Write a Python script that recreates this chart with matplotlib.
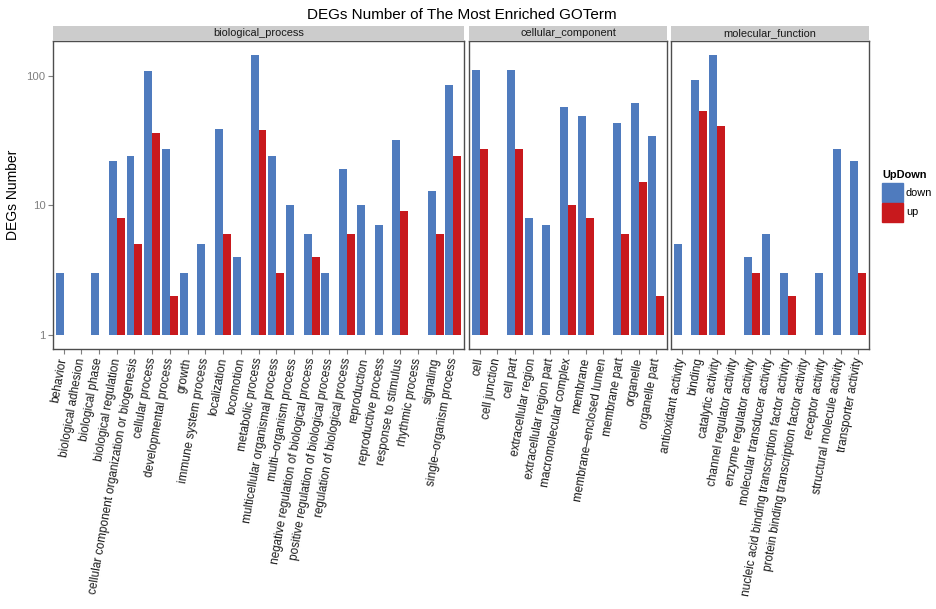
import matplotlib.pyplot as plt
import numpy as np

plt.rcParams['font.family'] = ['Liberation Sans', 'DejaVu Sans']

# GO terms and DEG counts per ontology (value 1 -> no visible bar on log axis)
bp_terms = ["behavior", "biological adhesion", "biological phase", "biological regulation",
            "cellular component organization or biogenesis", "cellular process",
            "developmental process", "growth", "immune system process", "localization",
            "locomotion", "metabolic process", "multicellular organismal process",
            "multi\u2013organism process", "negative regulation of biological process",
            "positive regulation of biological process", "regulation of biological process",
            "reproduction", "reproductive process", "response to stimulus",
            "rhythmic process", "signaling", "single\u2013organism process"]
bp_down = [3, 1, 3, 22, 24, 109, 27, 3, 5, 39, 4, 143, 24, 10, 6, 3, 19, 10, 7, 32, 1, 13, 84]
bp_up = [1, 1, 1, 8, 5, 36, 2, 1, 1, 6, 1, 38, 3, 1, 4, 1, 6, 1, 1, 9, 1, 6, 24]

cc_terms = ["cell", "cell junction", "cell part", "extracellular region",
            "extracellular region part", "macromolecular complex", "membrane",
            "membrane\u2013enclosed lumen", "membrane part", "organelle", "organelle part"]
cc_down = [110, 1, 110, 8, 7, 57, 49, 1, 43, 62, 34]
cc_up = [27, 1, 27, 1, 1, 10, 8, 1, 6, 15, 2]

mf_terms = ["antioxidant activity", "binding", "catalytic activity",
            "channel regulator activity", "enzyme regulator activity",
            "molecular transducer activity",
            "nucleic acid binding transcription factor activity",
            "protein binding transcription factor activity", "receptor activity",
            "structural molecule activity", "transporter activity"]
mf_down = [5, 92, 143, 1, 4, 6, 3, 1, 3, 27, 22]
mf_up = [1, 53, 41, 1, 3, 1, 2, 1, 1, 1, 3]

facets = [
    ("biological_process", bp_terms, bp_down, bp_up),
    ("cellular_component", cc_terms, cc_down, cc_up),
    ("molecular_function", mf_terms, mf_down, mf_up),
]

blue = "#4F7BBE"
red = "#C8191D"
W, H = 936, 609

fig = plt.figure(figsize=(W / 100, H / 100), dpi=100)

# panel extents in pixels (left, right)
panel_x = [(53, 464), (469, 667), (671, 869)]
top, bottom, strip_top = 41, 349, 26

ymin, ymax = 10 ** -0.108, 10 ** 2.267
bw = 0.45

for i, ((name, terms, down, up), (x0, x1)) in enumerate(zip(facets, panel_x)):
    ax = fig.add_axes([x0 / W, 1 - bottom / H, (x1 - x0) / W, (bottom - top) / H])
    x = np.arange(len(terms))
    ax.bar(x - bw / 2, np.array(down) - 1, bottom=1, width=bw, color=blue, label="down")
    ax.bar(x + bw / 2, np.array(up) - 1, bottom=1, width=bw, color=red, label="up")
    ax.set_yscale("log")
    ax.set_ylim(ymin, ymax)
    ax.set_xlim(-0.6, len(terms) - 0.4)
    ax.set_xticks(x)
    ax.set_xticklabels(terms, rotation=80, ha="right", va="center",
                       rotation_mode="anchor", fontsize=8.5, color="#1a1a1a")
    ax.tick_params(axis="x", length=3.5, color="#7f7f7f", pad=3)
    ax.minorticks_off()
    for s in ax.spines.values():
        s.set_color("#4d4d4d")
        s.set_linewidth(1.0)
    if i == 0:
        ax.set_yticks([1, 10, 100])
        ax.set_yticklabels(["1", "10", "100"])
        ax.tick_params(axis="y", length=3.5, color="#7f7f7f", labelcolor="#808080",
                       labelsize=8.2, pad=2)
        ax.set_ylabel("DEGs Number", fontsize=10)
        ax.yaxis.set_label_coords(-(53 - 20) / (x1 - x0), 0.5)
    else:
        ax.set_yticks([])

    # facet strip
    sax = fig.add_axes([x0 / W, 1 - top / H, (x1 - x0) / W, (top - strip_top) / H])
    sax.set_facecolor("#cccccc")
    sax.set_xticks([])
    sax.set_yticks([])
    for s in sax.spines.values():
        s.set_visible(False)
    sax.text(0.5, 0.3, name, ha="center", va="baseline", fontsize=7.9,
             color="#1a1a1a", transform=sax.transAxes)

fig.text(462 / W, 1 - 15 / H, "DEGs Number of The Most Enriched GOTerm",
         ha="center", va="center", fontsize=11)

# legend
fig.text(882 / W, 1 - 175 / H, "UpDown", fontsize=7.9, fontweight="bold",
         ha="left", va="center")
for j, (lab, c) in enumerate([("down", blue), ("up", red)]):
    y0 = 183 + j * 19.5
    fig.patches.append(plt.Rectangle((882 / W, 1 - (y0 + 19) / H), 21 / W, 19 / H,
                                     transform=fig.transFigure, color=c))
    fig.text(906 / W, 1 - (y0 + 9.5) / H, lab, fontsize=7.9, ha="left", va="center")

fig.savefig("out.png", dpi=100)
